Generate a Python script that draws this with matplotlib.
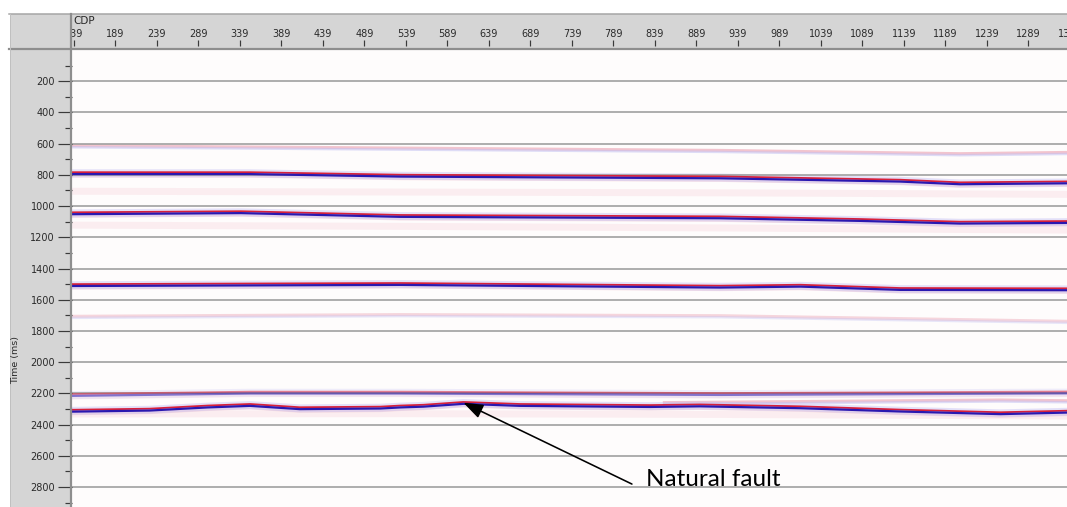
import numpy as np
import matplotlib
matplotlib.use("Agg")
import matplotlib.pyplot as plt
from matplotlib.patches import Rectangle
from matplotlib.lines import Line2D
from matplotlib.ticker import FixedLocator

# ---------------------------------------------------------------- data
# Picked reflector horizons: CDP positions and two-way times (ms)
h1_cdp = [137, 532, 917, 1206, 1335]
h1_t = [616, 631, 646, 667, 659]

h2_cdp = [137, 351, 532, 917, 1134, 1206, 1335]
h2_t = [790, 790, 806, 817, 838, 855, 849]

hb1_cdp = [137, 532, 917, 1335]
hb1_t = [905, 910, 915, 925]

h3_cdp = [137, 340, 532, 917, 1086, 1206, 1335]
h3_t = [1047, 1040, 1064, 1073, 1090, 1107, 1103]

hb2_cdp = [137, 532, 917, 1335]
hb2_t = [1122, 1130, 1140, 1154]

h4_cdp = [137, 532, 917, 1014, 1134, 1335]
h4_t = [1507, 1500, 1517, 1511, 1532, 1534]

h5_cdp = [137, 532, 917, 1335]
h5_t = [1709, 1698, 1705, 1741]

h6_cdp = [137, 351, 532, 917, 1335]
h6_t = [2211, 2196, 2196, 2205, 2195]

h7_cdp = [137, 230, 300, 351, 411, 508, 532, 560, 608, 676, 833, 893, 1014, 1134, 1255, 1335]
h7_t = [2312, 2305, 2285, 2275, 2296, 2292, 2285, 2280, 2262, 2275, 2282, 2278, 2290, 2311, 2328, 2318]

h7b_cdp = [850, 1014, 1134, 1255, 1335]
h7b_t = [2262, 2255, 2250, 2245, 2250]

hb3_cdp = [137, 532, 917, 1335]
hb3_t = [2332, 2330, 2335, 2345]

cdp_ticks = list(range(139, 1340, 50))
cdp_labels = [str(c) for c in cdp_ticks]
time_major = list(range(200, 2801, 200))
time_minor = list(range(100, 2901, 200))

fault_tip = (608, 2260)
fault_tail = (811, 2781)
fault_text_pos = (828, 2793)
fault_text = "Natural fault"

# ---------------------------------------------------------------- layout
W, H = 1067, 507
fig = plt.figure(figsize=(W / 100, H / 100), dpi=100)
fig.patch.set_facecolor("white")


def px(v):
    return v * 0.72


def fx(x):
    return x / W


def fy(y):
    return 1 - y / H


panel_gray = "#d5d5d5"
border_gray = "#8e8e8e"
text_col = "#2a2a2a"

cdp_min = 136.6
cdp_max = 1335.0
px_per_cdp = 0.83
t_top = 0.0
t_bot = (H - 49.8) / 0.15615

# left panel and header background
fig.add_artist(Rectangle((fx(10), 0), fx(71) - fx(10), fy(14), transform=fig.transFigure,
                         facecolor=panel_gray, edgecolor="none", zorder=-2))
fig.add_artist(Rectangle((fx(10), fy(50)), 1 - fx(10), fy(14) - fy(50), transform=fig.transFigure,
                         facecolor=panel_gray, edgecolor="none", zorder=-2))

# header axis with CDP ticks (extends past the right edge)
hdr_right_cdp = 1400
hdr_w = (hdr_right_cdp - cdp_min) * px_per_cdp
axh = fig.add_axes([fx(72), fy(46), hdr_w / W, (46 - 14) / H], zorder=0)
axh.set_facecolor("none")
axh.set_xlim(cdp_min, hdr_right_cdp)
axh.set_ylim(0, 1)
for s in axh.spines.values():
    s.set_visible(False)
axh.set_yticks([])
axh.xaxis.set_major_locator(FixedLocator(cdp_ticks))
axh.set_xticklabels(cdp_labels)
axh.tick_params(axis="x", direction="in", length=px(6), width=px(1.2), color="#3a3a3a",
                pad=-px(17), labelsize=7, labelcolor=text_col)

# cover the left part of the header so the first label is clipped
fig.add_artist(Rectangle((fx(10), fy(50)), fx(71.5) - fx(10), fy(14) - fy(50),
                         transform=fig.transFigure, facecolor=panel_gray,
                         edgecolor="none", zorder=1))

fig.text(fx(73), fy(20.5), "CDP", fontsize=7.5, color=text_col, va="center", ha="left",
         zorder=4)

# main section axes
ax = fig.add_axes([fx(72), 0, (W - 72) / W, (H - 50) / H], zorder=2)
ax.set_facecolor("#fefcfc")
ax.set_xlim(cdp_min, cdp_max)
ax.set_ylim(t_bot, t_top)
for s in ax.spines.values():
    s.set_visible(False)
ax.set_xticks([])
ax.yaxis.set_major_locator(FixedLocator(time_major))
ax.yaxis.set_minor_locator(FixedLocator(time_minor))
ax.tick_params(axis="y", which="major", direction="out", length=px(14), width=px(1.2),
               color="#3a3a3a", pad=px(3), labelsize=7, labelcolor=text_col)
ax.tick_params(axis="y", which="minor", direction="out", length=px(7), width=px(1.2),
               color="#3a3a3a")
ax.yaxis.grid(True, which="major", color="#9c9c9c", lw=px(1.6), zorder=1)
ax.set_axisbelow(False)

fig.text(fx(16), fy(360), "Time (ms)", rotation=90, fontsize=6.8, color=text_col,
         va="center", ha="center", zorder=4)

# ---------------------------------------------------------------- reflectors
RED = "#d8203a"
BLUE = "#2a18b0"


def strong(cdp, t, alpha=1.0):
    t = np.asarray(t, float)
    ax.plot(cdp, t + 12, color="#f4c6cf", lw=px(5), alpha=0.5 * alpha, zorder=2)
    ax.plot(cdp, t, color="#c4bff4", lw=px(8), alpha=0.45 * alpha, zorder=2)
    ax.plot(cdp, t - 7, color=RED, lw=px(1.8), alpha=alpha, zorder=3)
    ax.plot(cdp, t + 5, color=BLUE, lw=px(2.2), alpha=alpha, zorder=3)


def faint(cdp, t, alpha=1.0):
    t = np.asarray(t, float)
    ax.plot(cdp, t - 3, color="#eba0b0", lw=px(3), alpha=0.6 * alpha, zorder=2)
    ax.plot(cdp, t + 7, color="#c4c2f2", lw=px(2.5), alpha=0.55 * alpha, zorder=2)


def haze(cdp, t, alpha=1.0):
    ax.plot(cdp, t, color="#f9e2e7", lw=px(7), alpha=0.55 * alpha, zorder=1.5)


haze(hb1_cdp, hb1_t)
haze(hb2_cdp, hb2_t)
haze(hb3_cdp, hb3_t)
faint(h1_cdp, h1_t, 1.0)
strong(h2_cdp, h2_t)
strong(h3_cdp, h3_t)
strong(h4_cdp, h4_t)
faint(h5_cdp, h5_t, 0.7)
strong(h6_cdp, h6_t, 0.55)
faint(h7b_cdp, h7b_t, 1.0)
strong(h7_cdp, h7_t)

# ---------------------------------------------------------------- annotation
ax.annotate("", xy=fault_tip, xytext=fault_tail,
            arrowprops=dict(arrowstyle="-|>,head_length=0.6,head_width=0.22",
                            mutation_scale=20, color="black", lw=px(1.6),
                            shrinkA=0, shrinkB=0), zorder=5)
ax.text(fault_text_pos[0], fault_text_pos[1], fault_text, fontsize=17.5, family="Lato",
        color="black", ha="left", va="baseline", zorder=5)

# ---------------------------------------------------------------- borders
fig.add_artist(Line2D([fx(9), 1], [fy(14), fy(14)], transform=fig.transFigure,
                      color="#a4a4a4", lw=px(1.5), zorder=3))
fig.add_artist(Line2D([fx(9), 1], [fy(49), fy(49)], transform=fig.transFigure,
                      color=border_gray, lw=px(2.2), zorder=3))
fig.add_artist(Line2D([fx(71), fx(71)], [0, fy(14)], transform=fig.transFigure,
                      color=border_gray, lw=px(2.2), zorder=3))
fig.add_artist(Line2D([fx(9.5), fx(9.5)], [0, fy(14)], transform=fig.transFigure,
                      color="#c0c0c0", lw=px(1), zorder=3))

fig.savefig("out.png", dpi=100)
